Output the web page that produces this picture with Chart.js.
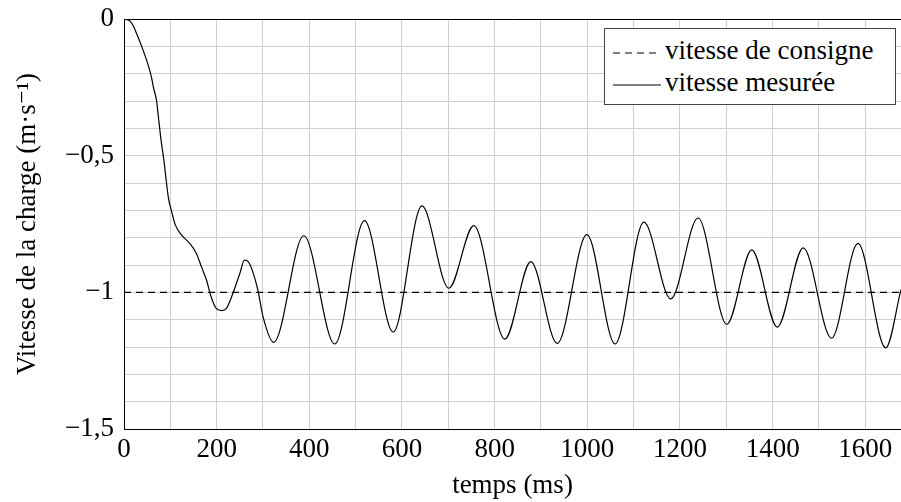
<!DOCTYPE html>
<html>
<head>
<meta charset="utf-8">
<script src="https://cdn.jsdelivr.net/npm/chart.js@4/dist/chart.umd.min.js"></script>
<style>
html, body { margin: 0; padding: 0; background: #fff; }
#wrap { position: relative; width: 901px; height: 502px; }
#legend {
  position: absolute; left: 604px; top: 28px; width: 290px; height: 75px;
  border: 1px solid #444; background: #fff;
  font-family: "Liberation Serif", "DejaVu Serif", serif; font-size: 27px; color: #000;
}
#legend .row { position: absolute; left: 8px; height: 30px; line-height: 30px; white-space: nowrap; }
#legend svg { vertical-align: middle; margin-right: 4px; }
</style>
</head>
<body>
<div id="wrap">
  <canvas id="chart" width="901" height="502"></canvas>
  <div id="legend">
    <div class="row" style="top:6px"><svg width="48" height="4"><line x1="0" y1="2" x2="48" y2="2" stroke="#000" stroke-width="1.2" stroke-dasharray="7,5"/></svg>vitesse de consigne</div>
    <div class="row" style="top:38px"><svg width="48" height="4"><line x1="0" y1="2" x2="48" y2="2" stroke="#000" stroke-width="1.2"/></svg>vitesse mesurée</div>
  </div>
</div>
<script>
const times = [0, 12, 19, 30, 41, 52, 59, 64, 70, 75, 80, 86, 91, 96, 102, 111, 124, 142, 156, 167, 178, 188, 199, 211, 221, 235, 250, 260, 268, 278, 289, 300,
  323, 388, 455, 519, 581, 643, 701, 755, 822, 878, 935, 999, 1060, 1122, 1180, 1239, 1301, 1355, 1410, 1466, 1527, 1584, 1644, 1677];
const speeds = [0, -0.006, -0.022, -0.065, -0.113, -0.168, -0.211, -0.254, -0.296, -0.370, -0.443, -0.516, -0.589, -0.656, -0.699, -0.754, -0.790, -0.821, -0.857, -0.906, -0.955, -1.016, -1.059, -1.067, -1.059, -1.004, -0.931, -0.882, -0.888, -0.925, -0.992, -1.089,
  -1.183, -0.793, -1.189, -0.738, -1.145, -0.684, -0.985, -0.756, -1.171, -0.888, -1.187, -0.789, -1.189, -0.743, -1.024, -0.728, -1.117, -0.845, -1.127, -0.837, -1.168, -0.821, -1.203, -0.99];

// setpoint
const setTimes = [0, 1677];
const setSpeeds = [-1, -1];

const X_MAX = 1677;
const FONT = '"Liberation Serif", "DejaVu Serif", serif';
const FSIZE = 27;

const measured = times.map((t, i) => ({ x: t, y: speeds[i] }));
const setpoint = setTimes.map((t, i) => ({ x: t, y: setSpeeds[i] }));

function fmtNum(v){
  return String(v).replace('.', ',').replace('-', '\u2212');
}

// black top frame line
const frameTop = {
  id: 'frameTop',
  afterDatasetsDraw(c){
    const a = c.chartArea, g = c.ctx;
    g.save();
    g.strokeStyle = '#000';
    g.lineWidth = 1;
    g.beginPath();
    g.moveTo(a.left, Math.round(a.top) + 0.5);
    g.lineTo(a.right, Math.round(a.top) + 0.5);
    g.stroke();
    g.restore();
  }
};

const ctx = document.getElementById('chart').getContext('2d');
const chart = new Chart(ctx, {
  type: 'line',
  data: {
    datasets: [
      {
        label: 'vitesse de consigne',
        data: setpoint,
        borderColor: '#000',
        borderWidth: 1.2,
        borderDash: [7, 5],
        pointRadius: 0,
        tension: 0
      },
      {
        label: 'vitesse mesurée',
        data: measured,
        borderColor: '#000',
        borderWidth: 1.2,
        pointRadius: 0,
        cubicInterpolationMode: 'monotone'
      }
    ]
  },
  options: {
    responsive: false,
    animation: false,
    layout: { padding: { top: 19, left: 0, right: 0, bottom: 0 } },
    plugins: { legend: { display: false }, tooltip: { enabled: false } },
    scales: {
      x: {
        type: 'linear',
        min: 0,
        max: X_MAX,
        afterFit(s){ s.height = 73; s.paddingLeft = 0; s.paddingRight = 0; },
        grid: { color: '#d0d0d0', lineWidth: 1, drawTicks: false },
        border: { color: '#000', width: 1 },
        ticks: {
          stepSize: 100,
          includeBounds: false,
          autoSkip: false,
          maxRotation: 0,
          padding: 5,
          color: '#000',
          font: { family: FONT, size: FSIZE },
          callback: v => (v % 200 === 0 ? String(v) : '')
        },
        title: {
          display: true,
          text: 'temps (ms)',
          color: '#000',
          font: { family: FONT, size: FSIZE },
          padding: { top: 0, bottom: 0 }
        }
      },
      y: {
        min: -1.5,
        max: 0,
        afterFit(s){ s.width = 124; s.paddingTop = 0; s.paddingBottom = 0; },
        grid: { color: '#d0d0d0', lineWidth: 1, drawTicks: false },
        border: { color: '#000', width: 1 },
        ticks: {
          stepSize: 0.1,
          autoSkip: false,
          padding: 10,
          color: '#000',
          font: { family: FONT, size: FSIZE },
          callback: v => {
            const r = Math.round(v * 10);
            return r % 5 === 0 ? fmtNum(r / 10) : '';
          }
        },
        title: {
          display: true,
          text: 'Vitesse de la charge (m\u00b7s\u207b\u00b9)',
          color: '#000',
          font: { family: FONT, size: FSIZE },
          padding: { top: 12, bottom: 0 }
        }
      }
    }
  },
  plugins: [frameTop]
});
</script>
</body>
</html>
